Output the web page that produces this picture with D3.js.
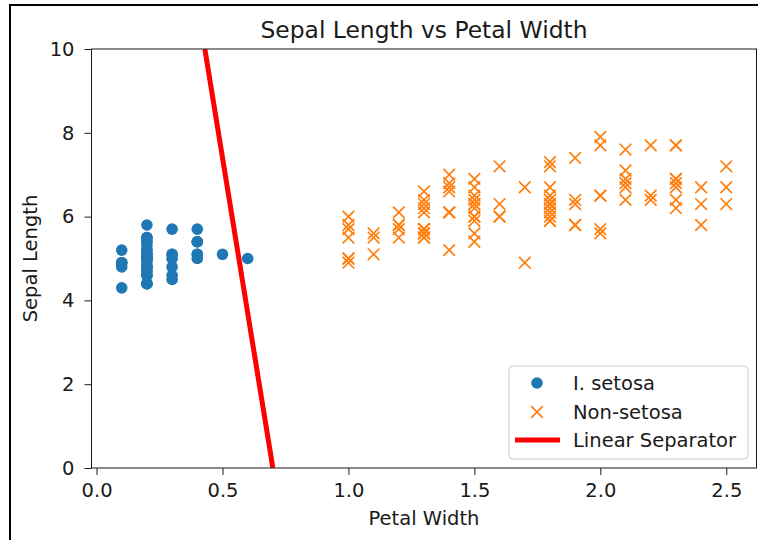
<!DOCTYPE html>
<html>
<head>
<meta charset="utf-8">
<script src="https://cdn.jsdelivr.net/npm/d3@7"></script>
<style>
  html, body { margin: 0; padding: 0; background: #fff; }
  svg { display: block; font-family: 'DejaVu Sans', sans-serif; }
</style>
</head>
<body>
<svg id="chart" width="758" height="540"></svg>
<script>
// I. setosa (petal width, sepal length)
const setosaPetalWidth = [
    0.2, 0.2, 0.2, 0.2, 0.2, 0.4, 0.3, 0.2, 0.2, 0.1,
    0.2, 0.2, 0.1, 0.1, 0.2, 0.4, 0.4, 0.3, 0.3, 0.3,
    0.2, 0.4, 0.2, 0.5, 0.2, 0.2, 0.4, 0.2, 0.2, 0.2,
    0.2, 0.4, 0.1, 0.2, 0.1, 0.2, 0.2, 0.1, 0.2, 0.2,
    0.3, 0.3, 0.2, 0.6, 0.4, 0.3, 0.2, 0.2, 0.2, 0.2
];
const setosaSepalLength = [
    5.1, 4.9, 4.7, 4.6, 5.0, 5.4, 4.6, 5.0, 4.4, 4.9,
    5.4, 4.8, 4.8, 4.3, 5.8, 5.7, 5.4, 5.1, 5.7, 5.1,
    5.4, 5.1, 4.6, 5.1, 4.8, 5.0, 5.0, 5.2, 5.2, 4.7,
    4.8, 5.4, 5.2, 5.5, 4.9, 5.0, 5.5, 4.9, 4.4, 5.1,
    5.0, 4.5, 4.4, 5.0, 5.1, 4.8, 5.1, 4.6, 5.3, 5.0
];

// Non-setosa (versicolor + virginica)
const nonSetosaPetalWidth = [
    1.4, 1.5, 1.5, 1.3, 1.5, 1.3, 1.6, 1.0, 1.3, 1.4,
    1.0, 1.5, 1.0, 1.4, 1.3, 1.4, 1.5, 1.0, 1.5, 1.1,
    1.8, 1.3, 1.5, 1.2, 1.3, 1.4, 1.4, 1.7, 1.5, 1.0,
    1.1, 1.0, 1.2, 1.6, 1.5, 1.6, 1.5, 1.3, 1.3, 1.3,
    1.2, 1.4, 1.2, 1.0, 1.3, 1.2, 1.3, 1.3, 1.1, 1.3,
    2.5, 1.9, 2.1, 1.8, 2.2, 2.1, 1.7, 1.8, 1.8, 2.5,
    2.0, 1.9, 2.1, 2.0, 2.4, 2.3, 1.8, 2.2, 2.3, 1.5,
    2.3, 2.0, 2.0, 1.8, 2.1, 1.8, 1.8, 1.8, 2.1, 1.6,
    1.9, 2.0, 2.2, 1.5, 1.4, 2.3, 2.4, 1.8, 1.8, 2.1,
    2.4, 2.3, 1.9, 2.3, 2.5, 2.3, 1.9, 2.0, 2.3, 1.8
];
const nonSetosaSepalLength = [
    7.0, 6.4, 6.9, 5.5, 6.5, 5.7, 6.3, 4.9, 6.6, 5.2,
    5.0, 5.9, 6.0, 6.1, 5.6, 6.7, 5.6, 5.8, 6.2, 5.6,
    5.9, 6.1, 6.3, 6.1, 6.4, 6.6, 6.8, 6.7, 6.0, 5.7,
    5.5, 5.5, 5.8, 6.0, 5.4, 6.0, 6.7, 6.3, 5.6, 5.5,
    5.5, 6.1, 5.8, 5.0, 5.6, 5.7, 5.7, 6.2, 5.1, 5.7,
    6.3, 5.8, 7.1, 6.3, 6.5, 7.6, 4.9, 7.3, 6.7, 7.2,
    6.5, 6.4, 6.8, 5.7, 5.8, 6.4, 6.5, 7.7, 7.7, 6.0,
    6.9, 5.6, 7.7, 6.3, 6.7, 7.2, 6.2, 6.1, 6.4, 7.2,
    7.4, 7.9, 6.4, 6.3, 6.1, 7.7, 6.3, 6.4, 6.0, 6.9,
    6.7, 6.9, 5.8, 6.8, 6.7, 6.7, 6.3, 6.5, 6.2, 5.9
];

// Linear separator end points
const separatorPetalWidth = [0.43, 0.70];
const separatorSepalLength = [10, 0];

const xTicks = [0, 0.5, 1.0, 1.5, 2.0, 2.5];
const yTicks = [0, 2, 4, 6, 8, 10];
const legendLabels = ['I. setosa', 'Non-setosa', 'Linear Separator'];

const BLUE = '#1f77b4';
const ORANGE = '#ff7f0e';
const RED = '#ff0000';
const TEXT = '#1a1a1a';
const FONT = '19.5px';

const svg = d3.select('#chart');

// Notebook output frame (top and left edges)
svg.append('path')
    .attr('d', 'M10,800 L10,5 L800,5')
    .attr('fill', 'none')
    .attr('stroke', '#000')
    .attr('stroke-width', 2);

// Plot area
const plot = { left: 91.5, right: 756.5, top: 49, bottom: 468 };

const xScale = d3.scaleLinear()
    .domain([-0.02, 2.62])
    .range([plot.left, plot.right]);

const yScale = d3.scaleLinear()
    .domain([0, 10])
    .range([plot.bottom, plot.top]);

svg.append('defs').append('clipPath')
    .attr('id', 'plot-clip')
    .append('rect')
    .attr('x', plot.left)
    .attr('y', plot.top)
    .attr('width', plot.right - plot.left)
    .attr('height', plot.bottom - plot.top);

const marks = svg.append('g').attr('clip-path', 'url(#plot-clip)');

// Setosa points
marks.selectAll('.setosa')
    .data(d3.zip(setosaPetalWidth, setosaSepalLength))
    .enter()
    .append('circle')
    .attr('class', 'setosa')
    .attr('cx', d => xScale(d[0]))
    .attr('cy', d => yScale(d[1]))
    .attr('r', 5.8)
    .attr('fill', BLUE);

// Non-setosa points (x markers)
const xMark = 'M-5.8,-5.8L5.8,5.8M-5.8,5.8L5.8,-5.8';
marks.selectAll('.non-setosa')
    .data(d3.zip(nonSetosaPetalWidth, nonSetosaSepalLength))
    .enter()
    .append('path')
    .attr('class', 'non-setosa')
    .attr('transform', d => `translate(${xScale(d[0])},${yScale(d[1])})`)
    .attr('d', xMark)
    .attr('fill', 'none')
    .attr('stroke', ORANGE)
    .attr('stroke-width', 1.7);

// Separator line
marks.append('path')
    .datum(d3.zip(separatorPetalWidth, separatorSepalLength))
    .attr('d', d3.line().x(d => xScale(d[0])).y(d => yScale(d[1])))
    .attr('fill', 'none')
    .attr('stroke', RED)
    .attr('stroke-width', 5);

// Axes
const xAxis = svg.append('g')
    .attr('transform', `translate(0,${plot.bottom})`)
    .call(d3.axisBottom(xScale).tickValues(xTicks).tickFormat(d3.format('.1f')).tickSizeOuter(0).tickSize(7).tickPadding(8));

const yAxis = svg.append('g')
    .attr('transform', `translate(${plot.left},0)`)
    .call(d3.axisLeft(yScale).tickValues(yTicks).tickFormat(d3.format('d')).tickSizeOuter(0).tickSize(7).tickPadding(10));

[xAxis, yAxis].forEach(axis => {
    axis.select('.domain').remove();
    axis.selectAll('line').attr('stroke', TEXT).attr('stroke-width', 1);
    axis.selectAll('text')
        .attr('font-family', 'DejaVu Sans')
        .attr('font-size', FONT)
        .attr('fill', TEXT);
});

// Spines
svg.append('rect')
    .attr('x', plot.left)
    .attr('y', plot.top)
    .attr('width', plot.right - plot.left)
    .attr('height', plot.bottom - plot.top)
    .attr('fill', 'none')
    .attr('stroke', TEXT)
    .attr('stroke-width', 1);

// Title and axis labels
svg.append('text')
    .attr('x', 424)
    .attr('y', 38)
    .attr('text-anchor', 'middle')
    .attr('font-size', '23.4px')
    .attr('fill', TEXT)
    .text('Sepal Length vs Petal Width');

svg.append('text')
    .attr('x', 424)
    .attr('y', 524.5)
    .attr('text-anchor', 'middle')
    .attr('font-size', FONT)
    .attr('fill', TEXT)
    .text('Petal Width');

svg.append('text')
    .attr('transform', `translate(37,${(plot.top + plot.bottom) / 2}) rotate(-90)`)
    .attr('text-anchor', 'middle')
    .attr('font-size', FONT)
    .attr('fill', TEXT)
    .text('Sepal Length');

// Legend
const legend = svg.append('g').attr('transform', 'translate(509,366)');

legend.append('rect')
    .attr('width', 239)
    .attr('height', 93)
    .attr('rx', 4)
    .attr('fill', 'rgba(255,255,255,0.8)')
    .attr('stroke', '#cccccc')
    .attr('stroke-width', 1);

const rowY = [17, 46, 74];

legend.append('circle')
    .attr('cx', 28)
    .attr('cy', rowY[0])
    .attr('r', 5.8)
    .attr('fill', BLUE);

legend.append('path')
    .attr('transform', `translate(28,${rowY[1]})`)
    .attr('d', xMark)
    .attr('fill', 'none')
    .attr('stroke', ORANGE)
    .attr('stroke-width', 1.7);

legend.append('line')
    .attr('x1', 6)
    .attr('x2', 51)
    .attr('y1', rowY[2])
    .attr('y2', rowY[2])
    .attr('stroke', RED)
    .attr('stroke-width', 5);

legend.selectAll('.legend-label')
    .data(legendLabels)
    .enter()
    .append('text')
    .attr('class', 'legend-label')
    .attr('x', 64)
    .attr('y', (d, i) => rowY[i])
    .attr('dy', '0.36em')
    .attr('font-size', FONT)
    .attr('fill', TEXT)
    .text(d => d);
</script>
</body>
</html>
